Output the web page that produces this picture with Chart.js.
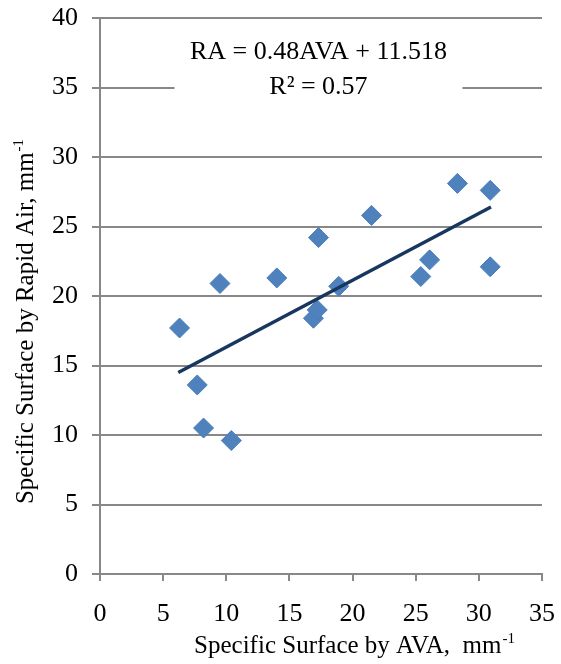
<!DOCTYPE html>
<html>
<head>
<meta charset="utf-8">
<script src="https://cdn.jsdelivr.net/npm/chart.js@4"></script>
<style>
  html, body { margin: 0; padding: 0; background: #fff; }
</style>
</head>
<body>
<canvas id="chart" width="561" height="664"></canvas>
<script>
// values
const avaValues = [6.3, 7.7, 8.2, 9.5, 10.4, 14.0, 16.9, 17.2, 17.3, 18.9, 21.5, 25.4, 26.1, 28.3, 30.9, 30.9];
const raValues = [17.7, 13.6, 10.5, 20.9, 9.6, 21.3, 18.4, 19.0, 24.2, 20.7, 25.8, 21.4, 22.6, 28.1, 27.6, 22.1];
const trendX = [6.2, 30.96];
const trendY = [14.5, 26.4];
const equationLines = ["RA = 0.48AVA + 11.518", "R\u00b2 = 0.57"];
const xTitle = "Specific Surface by AVA,  mm";
const yTitle = "Specific Surface by Rapid Air, mm";

const serif = "'Liberation Serif', 'Times New Roman', serif";
const gridGrey = "#888888";

function drawSup(ctx, text, sup, x, y, size) {
  // x is the centre of the whole string, y the baseline
  ctx.font = size + "px " + serif;
  const w1 = ctx.measureText(text).width;
  ctx.font = Math.round(size * 0.6) + "px " + serif;
  const w2 = ctx.measureText(sup).width;
  const start = x - (w1 + w2) / 2;
  ctx.textAlign = "left";
  ctx.textBaseline = "alphabetic";
  ctx.font = size + "px " + serif;
  ctx.fillText(text, start, y);
  ctx.font = Math.round(size * 0.6) + "px " + serif;
  ctx.fillText(sup, start + w1 + 1, y - size * 0.42);
}

const textPlugin = {
  id: "texts",
  afterDraw(chart) {
    const ctx = chart.ctx;
    const area = chart.chartArea;
    const xs = chart.scales.x, ys = chart.scales.y;
    ctx.save();

    // equation box
    const cx = xs.getPixelForValue(17.3);
    ctx.fillStyle = "#fff";
    ctx.fillRect(xs.getPixelForValue(5.9), ys.getPixelForValue(38.9),
      xs.getPixelForValue(28.7) - xs.getPixelForValue(5.9),
      ys.getPixelForValue(31) - ys.getPixelForValue(38.9));
    ctx.fillStyle = "#000";
    ctx.font = "26px " + serif;
    ctx.textAlign = "center";
    ctx.textBaseline = "middle";
    ctx.fillText(equationLines[0], cx, ys.getPixelForValue(37.55));
    ctx.fillText(equationLines[1], cx, ys.getPixelForValue(35.0));

    // x title
    drawSup(ctx, xTitle, "-1", (area.left + area.right) / 2 + 33, 653, 25);

    // y title
    ctx.translate(33, (area.top + area.bottom) / 2 + 26);
    ctx.rotate(-Math.PI / 2);
    drawSup(ctx, yTitle, "-1", 0, 0, 25);
    ctx.restore();
  }
};

new Chart(document.getElementById("chart"), {
  type: "scatter",
  data: {
    datasets: [
      {
        type: "line",
        label: "Trend",
        data: trendX.map((x, i) => ({ x: x, y: trendY[i] })),
        borderColor: "#17375e",
        borderWidth: 3.5,
        pointRadius: 0,
        fill: false,
        order: 0,
      },
      {
        label: "RA vs AVA",
        data: avaValues.map((x, i) => ({ x: x, y: raValues[i] })),
        pointStyle: "rectRot",
        pointRadius: 10,
        pointHoverRadius: 10,
        backgroundColor: "#4f81bd",
        borderColor: "#4a7ebb",
        borderWidth: 1,
        order: 1,
      },
    ],
  },
  options: {
    responsive: false,
    animation: false,
    layout: { padding: { top: 18, right: 19, left: 0, bottom: 0 } },
    plugins: {
      legend: { display: false },
      tooltip: { enabled: false },
    },
    scales: {
      x: {
        type: "linear",
        min: 0,
        max: 35,
        ticks: {
          stepSize: 5,
          color: "#000",
          padding: 18,
          maxRotation: 0,
          font: { family: serif, size: 26 },
        },
        grid: {
          drawOnChartArea: false,
          drawTicks: true,
          tickLength: 7,
          color: gridGrey,
          lineWidth: 2,
        },
        border: { color: gridGrey, width: 2 },
        afterFit(scale) {
          scale.height = 90;
          scale.paddingLeft = 0;
          scale.paddingRight = 0;
        },
      },
      y: {
        min: 0,
        max: 40,
        ticks: {
          stepSize: 5,
          color: "#000",
          padding: 14,
          font: { family: serif, size: 26 },
        },
        grid: {
          drawOnChartArea: true,
          drawTicks: true,
          tickLength: 8,
          color: gridGrey,
          lineWidth: 2,
        },
        border: { color: gridGrey, width: 2 },
        afterFit(scale) {
          scale.width = 100;
          scale.paddingTop = 0;
          scale.paddingBottom = 0;
        },
      },
    },
  },
  plugins: [textPlugin],
});
</script>
</body>
</html>
